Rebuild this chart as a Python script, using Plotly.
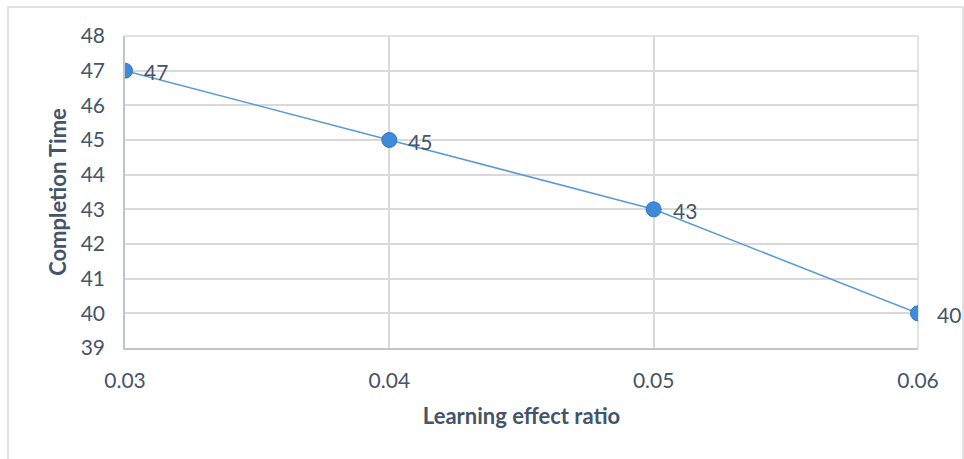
import plotly.graph_objects as go

# Learning effect ratio vs. completion time
ratios = [0.03, 0.04, 0.05, 0.06]
completion_time = [47, 45, 43, 40]
y_ticks = list(range(39, 49))
x_ticks = [0.03, 0.04, 0.05, 0.06]
x_tick_labels = ["0.03", "0.04", "0.05", "0.06"]

TEXT = "#44546A"
GRID = "#D9D9D9"
FONT = "Lato, 'Open Sans', sans-serif"

W, H = 964, 459
L, R, T, B = 125, 46, 36, 111
pw, ph = W - L - R, H - T - B

fig = go.Figure()
fig.add_trace(go.Scatter(
    x=ratios, y=completion_time,
    mode="lines+markers",
    line=dict(color="#5B9BD5", width=1.6),
    marker=dict(size=15, color="#3D8BD9", line=dict(color="#2F77C0", width=1)),
    showlegend=False, hoverinfo="x+y",
))

for xv, yv in zip(ratios, completion_time):
    fig.add_annotation(x=xv, y=yv, text=str(yv), showarrow=False,
                       xanchor="left", yanchor="middle", xshift=17, yshift=-1,
                       font=dict(family=FONT, size=21, color=TEXT))

# Outer chart-area border
fig.add_shape(type="rect", xref="paper", yref="paper",
              x0=(8 - L) / pw, x1=(963 - L) / pw,
              y0=-1.0, y1=(H - B - 7) / ph,
              line=dict(color=GRID, width=1.5), layer="below")

fig.update_layout(
    width=W, height=H,
    margin=dict(l=L, r=R, t=T, b=B, autoexpand=False),
    paper_bgcolor="white", plot_bgcolor="white",
    font=dict(family=FONT, size=21, color=TEXT),
    xaxis=dict(
        range=[0.03, 0.06], tickvals=x_ticks, ticktext=x_tick_labels,
        showgrid=True, gridcolor=GRID, gridwidth=1.5,
        showline=True, linecolor="#BFC5CE", linewidth=1.5,
        zeroline=False, ticks="", ticklabelstandoff=13,
        title=dict(text="<b>Learning effect ratio</b>", standoff=18,
                   font=dict(family=FONT, size=22, color=TEXT)),
        tickfont=dict(family=FONT, size=21, color=TEXT),
    ),
    yaxis=dict(
        range=[39, 48], tickvals=y_ticks,
        showgrid=True, gridcolor=GRID, gridwidth=1.5,
        showline=True, linecolor="#BFC5CE", linewidth=1.5,
        zeroline=False, ticks="", ticklabelstandoff=14,
        title=dict(text="<b>Completion Time</b>", standoff=8,
                   font=dict(family=FONT, size=22, color=TEXT)),
        tickfont=dict(family=FONT, size=21, color=TEXT),
    ),
)

# Top and right edges of the plot area
fig.add_shape(type="line", xref="paper", yref="paper", x0=0, x1=1, y0=1, y1=1,
              line=dict(color=GRID, width=1.5), layer="below")
fig.add_shape(type="line", xref="paper", yref="paper", x0=1, x1=1, y0=0, y1=1,
              line=dict(color=GRID, width=1.5), layer="below")

fig.write_html("out.html")
